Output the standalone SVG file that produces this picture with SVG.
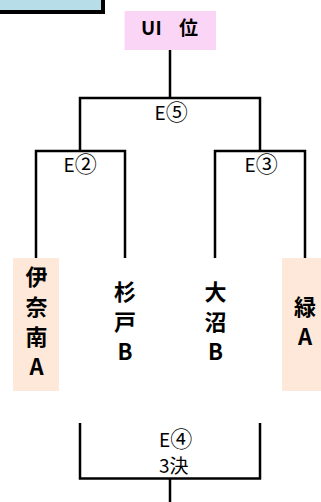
<svg xmlns="http://www.w3.org/2000/svg" width="321" height="502" viewBox="0 0 321 502">
<style>
.ln{fill:none;stroke:#000;stroke-width:2.5}
.team{font-family:"Noto Sans CJK JP","Noto Sans",sans-serif;font-size:22px;font-weight:bold;fill:#000;text-anchor:middle}
.lbl{font-family:"Noto Sans CJK JP","Liberation Sans",sans-serif;font-size:19px;fill:#000}
.cd{font-size:22px}
.peach{fill:#fde8d9}
</style>
<rect id="title-box" x="-10" y="-10" width="113" height="22" fill="#b7dde8" stroke="#000" stroke-width="4"/>
<g id="connectors">
<path class="ln" d="M170,50 V98"/>
<path class="ln" d="M80,151 V98 H260 V151"/>
<path class="ln" d="M36,258 V151 H125 V258"/>
<path class="ln" d="M215,258 V151 H305 V258"/>
<path class="ln" d="M80,423 V478.5 H260 V423"/>
<path class="ln" d="M170,478.5 V502"/>
</g>
<g id="labels">
<text class="lbl" x="154.5" y="119.5">E<tspan class="cd">⑤</tspan></text>
<text class="lbl" x="63.5" y="171.5">E<tspan class="cd">②</tspan></text>
<text class="lbl" x="244.5" y="171.5">E<tspan class="cd">③</tspan></text>
<text class="lbl" x="159" y="446.5">E<tspan class="cd">④</tspan></text>
<text class="lbl" x="159" y="472.5" font-size="21">3決</text>
</g>
<g id="winner">
<rect x="124.5" y="11" width="91.5" height="39" fill="#fbd5f5"/>
<text font-family="'Noto Sans CJK JP','Noto Sans',sans-serif" font-size="19" font-weight="bold" y="35"><tspan x="141">U</tspan><tspan x="155.5">I</tspan><tspan x="179">位</tspan></text>
</g>
<g id="team-inanami">
<rect class="peach" x="13" y="258" width="46" height="133"/>
<text class="team"><tspan x="36.5" y="285">伊</tspan><tspan x="36.5" y="315">奈</tspan><tspan x="36.5" y="345">南</tspan><tspan x="36.5" y="375">A</tspan></text>
</g>
<g id="team-sugito">
<text class="team"><tspan x="125" y="300">杉</tspan><tspan x="125" y="330">戸</tspan><tspan x="125" y="360">B</tspan></text>
</g>
<g id="team-onuma">
<text class="team"><tspan x="215.5" y="300">大</tspan><tspan x="215.5" y="330">沼</tspan><tspan x="215.5" y="360">B</tspan></text>
</g>
<g id="team-midori">
<rect class="peach" x="282" y="258" width="40" height="133"/>
<text class="team"><tspan x="305" y="315">緑</tspan><tspan x="305" y="345">A</tspan></text>
</g>
</svg>
